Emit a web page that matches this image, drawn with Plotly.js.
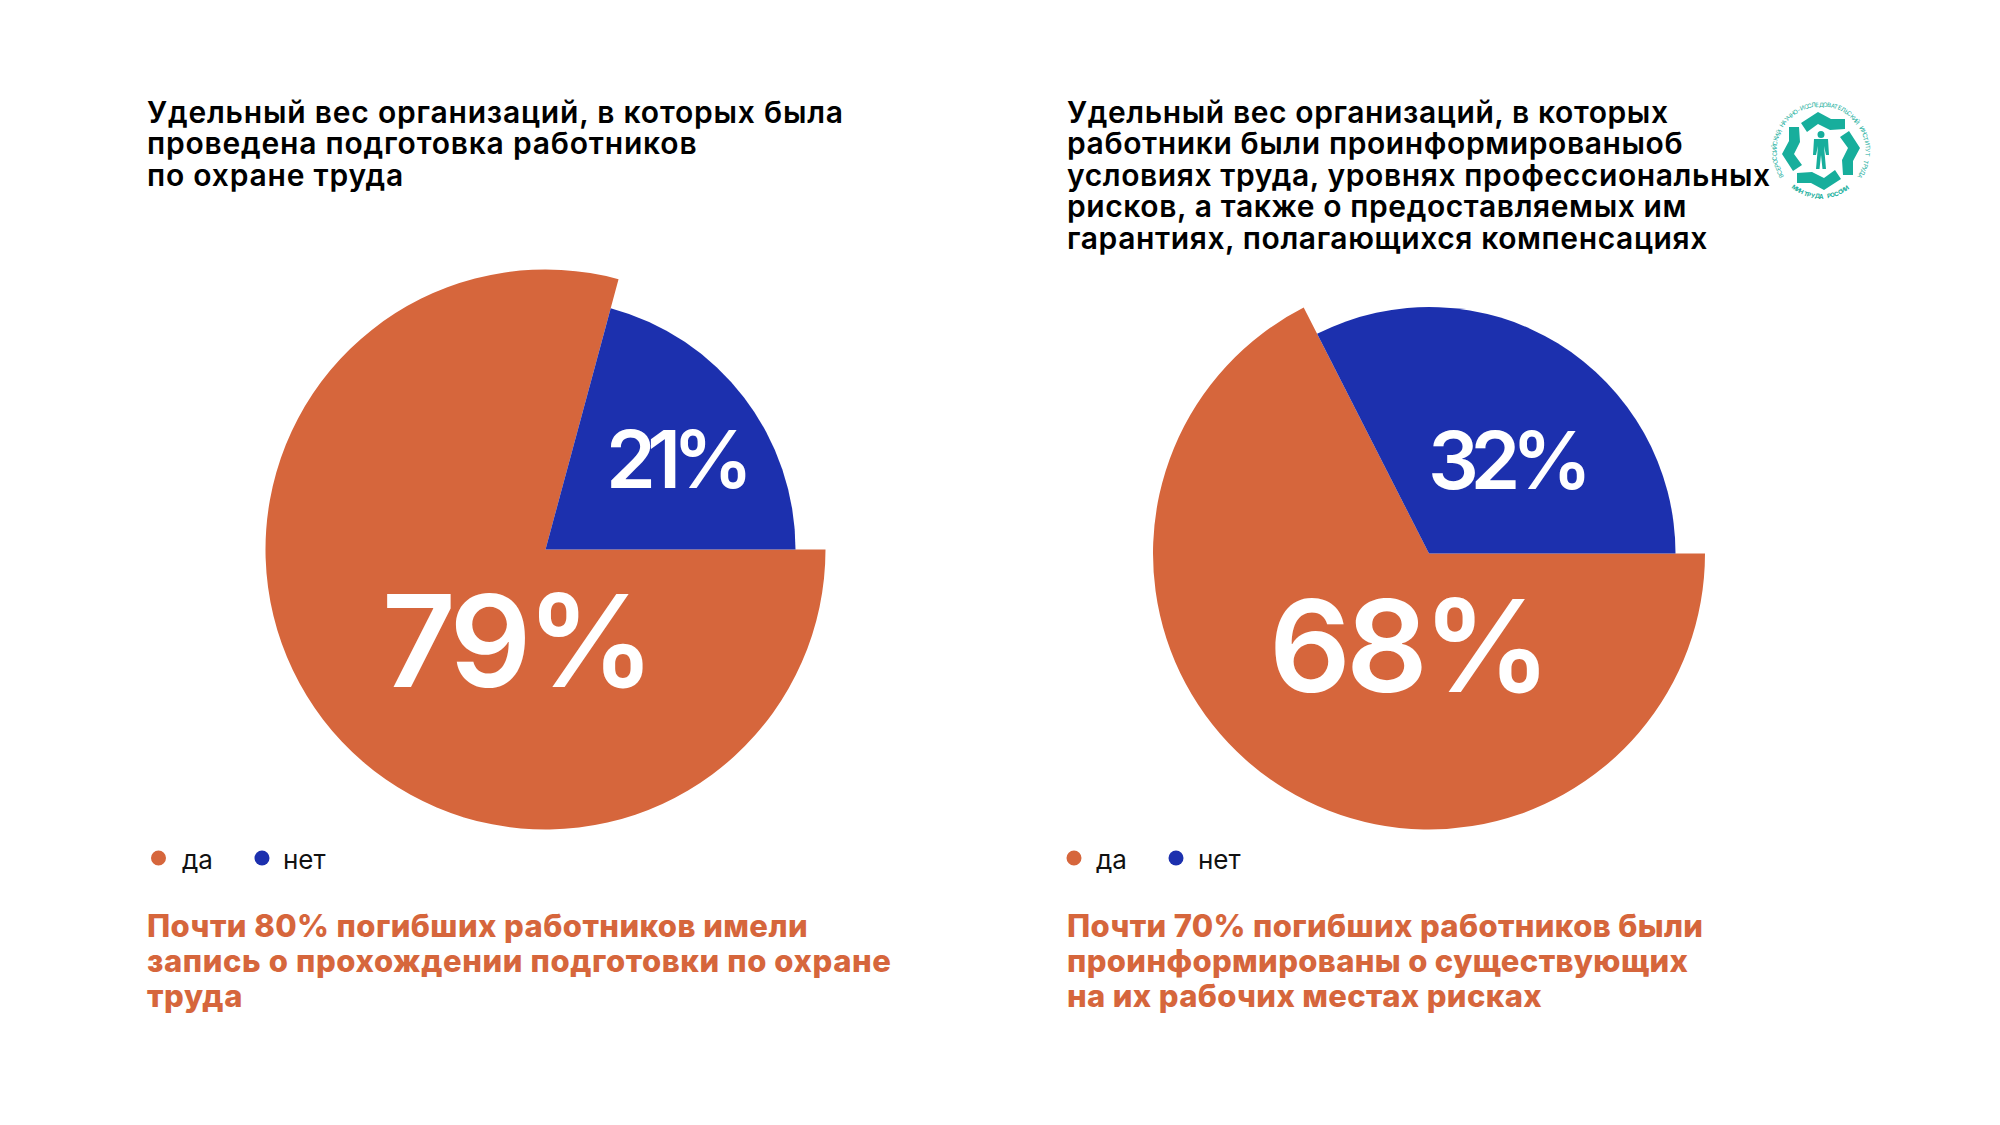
<!DOCTYPE html>
<html lang="ru">
<head>
<meta charset="utf-8">
<title>Подготовка и информирование работников</title>
<script src="https://cdn.plot.ly/plotly-3.0.1.min.js"></script>
<style>
  html, body { margin: 0; padding: 0; background: #fff; }
  #chart { width: 2000px; height: 1125px; }
</style>
</head>
<body>
<div id="chart"></div>
<script>
'use strict';

const categories = ['да', 'нет'];
// shares as the slices are actually drawn in the picture, labels as printed on it
const trainingShares = [79.2, 20.8];
const informedShares = [67.5, 32.5];
const trainingLabels = ['79%', '21%'];
const informedLabels = ['68%', '32%'];

const trainingTitle = ['Удельный вес организаций, в которых была', 'проведена подготовка работников', 'по охране труда'];
const informedTitle = ['Удельный вес организаций, в которых', 'работники были проинформированыоб', 'условиях труда, уровнях профессиональных', 'рисков, а также о предоставляемых им', 'гарантиях, полагающихся компенсациях'];
const trainingNote = ['Почти 80% погибших работников имели', 'запись о прохождении подготовки по охране', 'труда'];
const informedNote = ['Почти 70% погибших работников были', 'проинформированы о существующих', 'на их рабочих местах рисках'];

const logoRing = 'ВСЕРОССИЙСКИЙ НАУЧНО-ИССЛЕДОВАТЕЛЬСКИЙ ИНСТИТУТ ТРУДА';
const logoFoot = 'МИНТРУДА РОССИИ';

const W = 2000, H = 1125;
const ORANGE = '#D6663C', BLUE = '#1C30AE', TEAL = '#17AE9C';
const FONT = 'Inter, "Noto Sans", sans-serif';

const px = x => x / W;
const py = y => 1 - y / H;

// slice of a pie drawn in its own square so that the two slices get different radii
function slice(values, colors, cx, cy, r) {
    return {
        type: 'pie', labels: categories, values, sort: false, direction: 'clockwise', rotation: 90,
        marker: { colors, line: { width: 0 } }, textinfo: 'none', hoverinfo: 'label+percent', showlegend: false,
        domain: { x: [px(cx - r), px(cx + r)], y: [py(cy + r), py(cy - r)] }
    };
}

const data = [
    slice(trainingShares, [ORANGE, 'rgba(0,0,0,0)'], 545.5, 549.5, 280),
    slice(trainingShares, ['rgba(0,0,0,0)', BLUE], 545.5, 549.5, 250),
    slice(informedShares, [ORANGE, 'rgba(0,0,0,0)'], 1429, 553.5, 276),
    slice(informedShares, ['rgba(0,0,0,0)', BLUE], 1429, 553.5, 246.5)
];

function label(text, x, y, size, color, weight, extra) {
    return Object.assign({
        text, x: px(x), y: py(y), xref: 'paper', yref: 'paper', showarrow: false,
        xanchor: 'left', yanchor: 'middle', align: 'left', borderpad: 0,
        font: { family: FONT, size, color, weight }
    }, extra || {});
}

const annotations = [];
const shapes = [];

trainingTitle.forEach((t, i) => annotations.push(label(t, 146, 111.5 + i * 31.6, 30, '#000', 600)));
informedTitle.forEach((t, i) => annotations.push(label(t, 1066, 111.5 + i * 31.6, 30, '#000', 600)));
trainingNote.forEach((t, i) => annotations.push(label(t, 146, 925 + i * 35, 31, ORANGE, 800)));
informedNote.forEach((t, i) => annotations.push(label(t, 1066, 925 + i * 35, 31, ORANGE, 800)));

// percent labels
const centered = { xanchor: 'center' };
annotations.push(label(trainingLabels[1], 688, 459, 80, '#fff', 600, centered));
annotations.push(label(trainingLabels[0], 523, 640, 128, '#fff', 600, centered));
annotations.push(label(informedLabels[1], 1518, 460, 80, '#fff', 600, centered));
annotations.push(label(informedLabels[0], 1415, 645, 128, '#fff', 600, centered));

// hand made legends, the library only has square swatches for pies
function legendDot(x, y, color) {
    shapes.push({ type: 'circle', xref: 'paper', yref: 'paper', x0: px(x - 7.5), x1: px(x + 7.5), y0: py(y + 7.5), y1: py(y - 7.5), fillcolor: color, line: { width: 0 } });
}
[[158.5, 181, 262, 282], [1074, 1095, 1176, 1197]].forEach(p => {
    legendDot(p[0], 858, ORANGE);
    annotations.push(label(categories[0], p[1], 859, 26, '#111', 400));
    legendDot(p[2], 858, BLUE);
    annotations.push(label(categories[1], p[3], 859, 26, '#111', 400));
});

// logo
const LX = 1821, LY = 151;
const hand = [[-20, -28], [-3, -39], [10, -32], [24, -32], [24, -22], [9, -21], [-3, -27], [-14, -19]];
const body = [[-7, -12], [7, -12], [8, 4], [5, 4], [3, -5], [5, 18], [1.5, 18], [0, 4], [-1.5, 18], [-5, 18], [-3, -5], [-5, 4], [-8, 4]];
function logoPath(points) {
    return points.map((p, i) => (i ? 'L' : 'M') + px(LX + p[0]) + ',' + py(LY + p[1])).join(' ') + ' Z';
}
for (let k = 0; k < 4; k++) {
    const pts = hand.map(p => k === 0 ? p : k === 1 ? [-p[1], p[0]] : k === 2 ? [-p[0], -p[1]] : [p[1], -p[0]]);
    shapes.push({ type: 'path', xref: 'paper', yref: 'paper', path: logoPath(pts), fillcolor: TEAL, line: { width: 0 } });
}
shapes.push({ type: 'path', xref: 'paper', yref: 'paper', path: logoPath(body), fillcolor: TEAL, line: { width: 0 } });
shapes.push({ type: 'circle', xref: 'paper', yref: 'paper', x0: px(LX - 3.5), x1: px(LX + 3.5), y0: py(LY - 13), y1: py(LY - 20), fillcolor: TEAL, line: { width: 0 } });

function arcChar(ch, deg, r, size, weight, flip) {
    const a = deg * Math.PI / 180;
    annotations.push(label(ch, LX + r * Math.sin(a), LY - r * Math.cos(a), size, TEAL, weight, {
        xanchor: 'center', align: 'center', textangle: flip ? deg - 180 : deg
    }));
}
Array.from(logoRing).forEach((ch, i) => { if (ch !== ' ') arcChar(ch, -122 + i * 4.7, 47, 6, 400, false); });
Array.from(logoFoot).forEach((ch, i) => { if (ch !== ' ') arcChar(ch, 215 - i * 5, 45, 6, 700, true); });

const layout = {
    width: W, height: H,
    margin: { l: 0, r: 0, t: 0, b: 0 },
    paper_bgcolor: '#fff',
    showlegend: false,
    annotations, shapes
};

// the original typeface is wider than Inter, letter spacing makes up for it
const spacing = new Map();
trainingTitle.forEach(t => spacing.set(t, '0.8px'));
informedTitle.forEach(t => spacing.set(t, '0.6px'));
trainingNote.forEach((t, i) => spacing.set(t, i === 0 ? '0.42px' : '0.6px'));
informedNote.forEach(t => spacing.set(t, '0.35px'));
trainingLabels.concat(informedLabels).forEach((t, i) => spacing.set(t, i % 2 ? '-8.5px' : '-5px'));

Plotly.newPlot('chart', data, layout, { displayModeBar: false, responsive: false }).then(() => {
    document.querySelectorAll('.annotation-text').forEach(el => {
        const s = spacing.get(el.textContent);
        if (s) el.style.letterSpacing = s;
    });
});
</script>
</body>
</html>
